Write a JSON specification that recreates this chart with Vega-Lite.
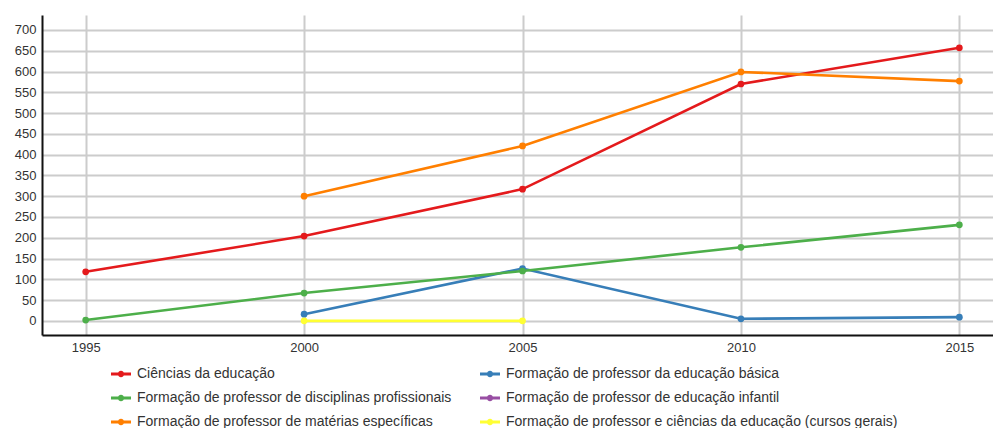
{
  "$schema": "https://vega.github.io/schema/vega-lite/v6.json",
  "autosize": "none",
  "width": 951,
  "height": 320,
  "padding": {"left": 42, "top": 15, "right": 0, "bottom": 93},
  "background": "white",
  "config": {
    "view": {"stroke": null},
    "font": "Liberation Sans"
  },
  "data": {
    "values": [
      {"ano": 1995, "serie": "Ciências da educação", "valor": 118},
      {"ano": 2000, "serie": "Ciências da educação", "valor": 204},
      {"ano": 2005, "serie": "Ciências da educação", "valor": 317},
      {"ano": 2010, "serie": "Ciências da educação", "valor": 570},
      {"ano": 2015, "serie": "Ciências da educação", "valor": 657},
      {"ano": 2000, "serie": "Formação de professor da educação básica", "valor": 16},
      {"ano": 2005, "serie": "Formação de professor da educação básica", "valor": 126},
      {"ano": 2010, "serie": "Formação de professor da educação básica", "valor": 5},
      {"ano": 2015, "serie": "Formação de professor da educação básica", "valor": 9},
      {"ano": 1995, "serie": "Formação de professor de disciplinas profissionais", "valor": 2},
      {"ano": 2000, "serie": "Formação de professor de disciplinas profissionais", "valor": 67},
      {"ano": 2005, "serie": "Formação de professor de disciplinas profissionais", "valor": 120},
      {"ano": 2010, "serie": "Formação de professor de disciplinas profissionais", "valor": 177},
      {"ano": 2015, "serie": "Formação de professor de disciplinas profissionais", "valor": 231},
      {"ano": 2000, "serie": "Formação de professor de matérias específicas", "valor": 300},
      {"ano": 2005, "serie": "Formação de professor de matérias específicas", "valor": 421},
      {"ano": 2010, "serie": "Formação de professor de matérias específicas", "valor": 599},
      {"ano": 2015, "serie": "Formação de professor de matérias específicas", "valor": 577},
      {"ano": 2000, "serie": "Formação de professor e ciências da educação (cursos gerais)", "valor": 0},
      {"ano": 2005, "serie": "Formação de professor e ciências da educação (cursos gerais)", "valor": 0}
    ]
  },
  "mark": {"type": "line", "strokeWidth": 2.6, "point": {"filled": true, "size": 45, "opacity": 1}},
  "encoding": {
    "x": {
      "field": "ano",
      "type": "quantitative",
      "scale": {"domain": [1994, 2015.77], "nice": false, "zero": false},
      "axis": {
        "title": null,
        "values": [1995, 2000, 2005, 2010, 2015],
        "format": "d",
        "ticks": false,
        "labelPadding": 6,
        "labelFontSize": 13,
        "labelColor": "#333333",
        "domainColor": "#111111",
        "domainWidth": 2,
        "gridColor": "#cccccc",
        "gridWidth": 2,
        "gridOpacity": 1
      }
    },
    "y": {
      "field": "valor",
      "type": "quantitative",
      "scale": {"domain": [-34, 736], "nice": false, "zero": false},
      "axis": {
        "title": null,
        "values": [0, 50, 100, 150, 200, 250, 300, 350, 400, 450, 500, 550, 600, 650, 700],
        "ticks": false,
        "labelPadding": 6,
        "labelFontSize": 13,
        "labelColor": "#333333",
        "domainColor": "#111111",
        "domainWidth": 2,
        "gridColor": "#cccccc",
        "gridWidth": 2,
        "gridOpacity": 1
      }
    },
    "color": {
      "field": "serie",
      "type": "nominal",
      "scale": {
        "domain": [
          "Ciências da educação",
          "Formação de professor da educação básica",
          "Formação de professor de disciplinas profissionais",
          "Formação de professor de educação infantil",
          "Formação de professor de matérias específicas",
          "Formação de professor e ciências da educação (cursos gerais)"
        ],
        "range": ["#e41a1c", "#377eb8", "#4daf4a", "#984ea3", "#ff7f00", "#ffff33"]
      },
      "legend": {
        "title": null,
        "orient": "none",
        "legendX": 69,
        "legendY": 349,
        "direction": "horizontal",
        "columns": 2,
        "columnPadding": 28,
        "rowPadding": 7,
        "labelFontSize": 14,
        "labelLimit": 0,
        "labelColor": "#333333",
        "labelOffset": 6,
        "symbolSize": 400,
        "symbolType": "M-1,-0.14H1V0.14H-1Z M0.32,0A0.32,0.32,0,1,1,-0.32,0A0.32,0.32,0,1,1,0.32,0Z",
        "symbolStrokeWidth": 0,
        "encode": {
          "symbols": {
            "update": {
              "fill": {"scale": "color", "field": "value"},
              "strokeWidth": {"value": 0},
              "opacity": {"value": 1}
            }
          }
        }
      }
    }
  }
}
